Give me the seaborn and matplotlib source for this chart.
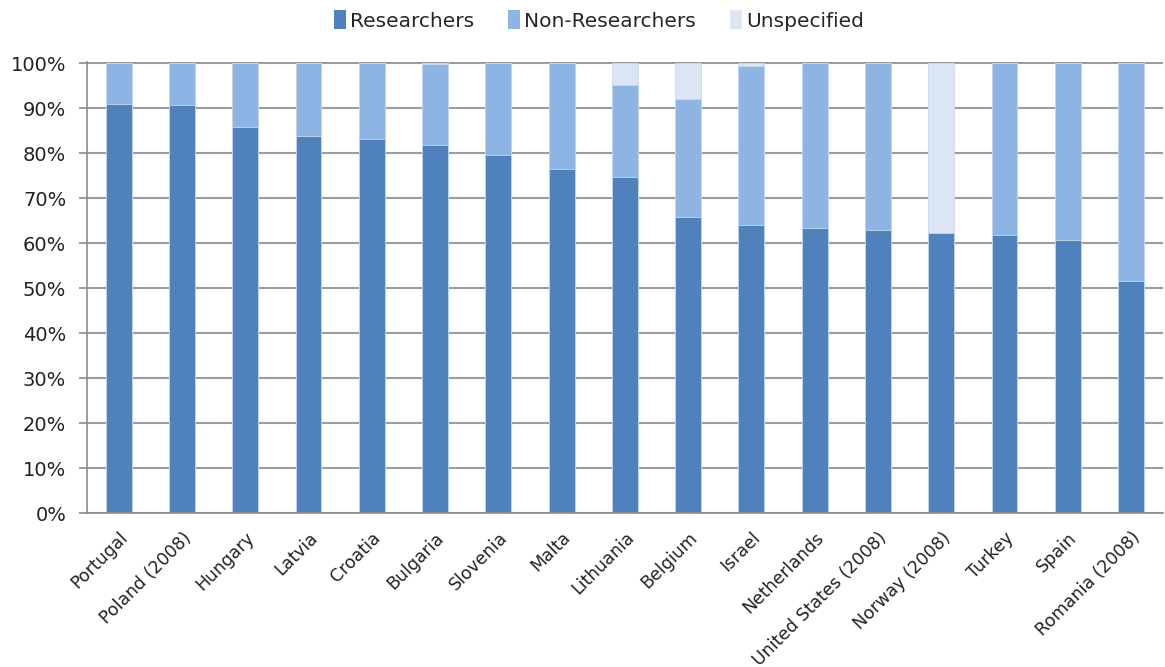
import matplotlib
matplotlib.use("Agg")
import matplotlib.pyplot as plt
from matplotlib.patches import Patch
import seaborn as sns
import pandas as pd
import numpy as np

countries = ["Portugal", "Poland (2008)", "Hungary", "Latvia", "Croatia", "Bulgaria",
             "Slovenia", "Malta", "Lithuania", "Belgium", "Israel", "Netherlands",
             "United States (2008)", "Norway (2008)", "Turkey", "Spain", "Romania (2008)"]
researchers = [91.0, 90.6, 85.7, 83.9, 83.2, 81.7, 79.6, 76.4, 74.6, 65.8, 64.0, 63.3,
               62.9, 62.2, 61.9, 60.8, 51.6]
non_researchers = [9.0, 9.4, 14.3, 16.1, 16.8, 18.0, 20.4, 23.6, 20.6, 26.2, 35.4, 36.7,
                   37.1, 0.0, 38.1, 39.2, 48.4]
unspecified = [0.0, 0.0, 0.0, 0.0, 0.0, 0.3, 0.0, 0.0, 4.8, 8.0, 0.6, 0.0,
               0.0, 37.8, 0.0, 0.0, 0.0]

series = ["Researchers", "Non-Researchers", "Unspecified"]
colors = ["#4F81BD", "#8EB4E3", "#DCE6F2"]

df = pd.DataFrame({"country": countries, "Researchers": researchers,
                   "Non-Researchers": non_researchers, "Unspecified": unspecified})
# cumulative tops so stacked bars can be layered with seaborn
df["top_res"] = df["Researchers"]
df["top_non"] = df["Researchers"] + df["Non-Researchers"]
df["top_uns"] = df["top_non"] + df["Unspecified"]

sns.set_theme(style="white")
plt.rcParams["font.family"] = ["DejaVu Sans"]

fig = plt.figure(figsize=(11.65, 6.67), dpi=100)
ax = fig.add_axes([0.0747, 0.2304, 0.9233, 0.6771])

for col, color in zip(["top_uns", "top_non", "top_res"], colors[::-1]):
    sns.barplot(data=df, x="country", y=col, color=color, width=0.41, ax=ax,
                saturation=1, edgecolor="#c9d8ec", linewidth=0.6)

ax.set_ylim(0, 100.3)
ax.set_xlim(-0.5, len(countries) - 0.5)
ax.set_yticks(np.arange(0, 101, 10))
ax.set_yticklabels([f"{v}%" for v in range(0, 101, 10)], fontsize=14, color="#222222")
ax.yaxis.grid(True, color="#9c9c9c", linewidth=1.5)
ax.set_axisbelow(True)

ax.set_xticks(range(len(countries)))
ax.set_xticklabels(countries, rotation=45, ha="right", rotation_mode="anchor",
                   fontsize=12.5, color="#222222")
ax.set_xticks(np.arange(-0.5, len(countries), 1), minor=True)
ax.tick_params(axis="x", which="major", length=0, pad=11)
ax.tick_params(axis="x", which="minor", length=6, width=1.2, color="#8c8c8c", direction="out")
ax.tick_params(axis="y", length=6, width=1.2, color="#8c8c8c", direction="out", left=True, pad=9)
ax.set_xlabel("")
ax.set_ylabel("")

for side in ["top", "right"]:
    ax.spines[side].set_visible(False)
for side in ["left", "bottom"]:
    ax.spines[side].set_color("#8c8c8c")
    ax.spines[side].set_linewidth(1.2)

handles = [Patch(facecolor=c, edgecolor="none") for c in colors]
fig.legend(handles, series, loc="upper center", bbox_to_anchor=(0.514, 1.012), ncol=3,
           frameon=False, fontsize=14.5, handlelength=0.6, handleheight=1.1,
           handletextpad=0.2, columnspacing=1.7)

fig.savefig("out.png", dpi=100)
